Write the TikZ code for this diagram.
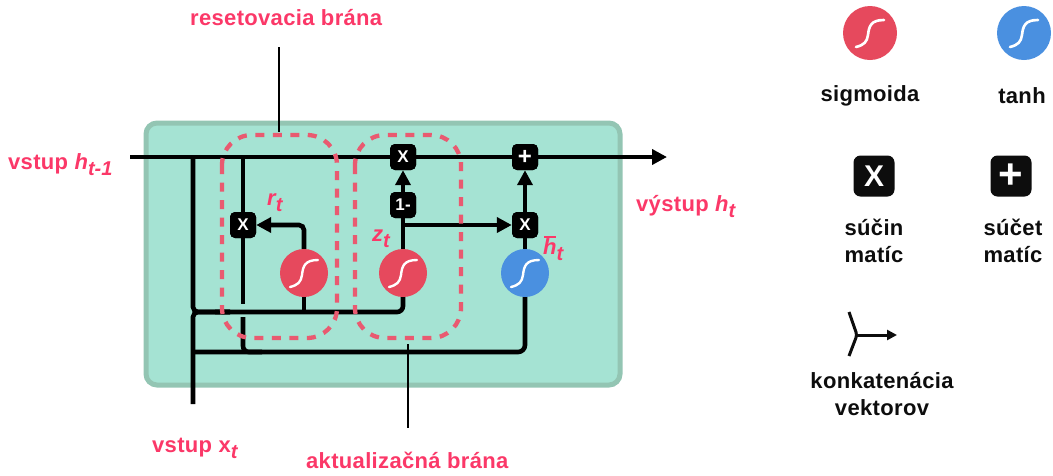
\documentclass[tikz,border=0pt]{standalone}
\usepackage{fontspec}
\setmainfont{Liberation Sans}[BoldFeatures={LetterSpace=1.5}]
\usetikzlibrary{arrows.meta}
\definecolor{panelfill}{HTML}{A5E3D3}
\definecolor{paneledge}{HTML}{93C5B3}
\definecolor{sigred}{HTML}{E6495D}
\definecolor{tanhblue}{HTML}{4A90E0}
\definecolor{dashpink}{HTML}{E95A70}
\definecolor{labelpink}{HTML}{FB3868}
\newcommand{\lblsub}[1]{\raisebox{-0.3em}{\itshape\fontsize{20}{20}\selectfont #1}}
\newcommand{\hbarglyph}{\makebox[0pt][l]{\hspace{1pt}\raisebox{16pt}{\rule{12pt}{1.6pt}}}{\itshape h}}
\tikzset{
  x=1pt,y=-1pt,
  wire/.style={line width=4.6pt,draw=black},
  arrowwire/.style={wire,-{Triangle[length=15pt,width=15pt]}},
  thinwire/.style={line width=1.5pt,draw=black},
  gatedash/.style={draw=dashpink,line width=4.3pt,rounded corners=30pt,dash pattern=on 9pt off 8.5pt},
  opbox/.style={fill=black,text=white,rounded corners=5pt,minimum size=26pt,inner sep=0pt,font=\bfseries\fontsize{17}{17}\selectfont},
  plusbox/.style={opbox,font=\bfseries\fontsize{24}{24}\selectfont},
  bigbox/.style={fill=black!95,text=white,rounded corners=7pt,minimum size=41pt,inner sep=0pt,font=\bfseries\fontsize{30}{30}\selectfont},
  bigplus/.style={bigbox,font=\bfseries\fontsize{42}{42}\selectfont},
  sshape/.style={path picture={\draw[white,line width=#1*2.4pt,line cap=round,shift={(path picture bounding box.center)},scale=#1]
     (-14,14) .. controls (-6,12) and (-3,9) .. (-2,2) .. controls (-1,-7) and (1,-13) .. (14,-13);}},
  redsig/.style={circle,fill=sigred,minimum size=48pt,inner sep=0pt,sshape=1},
  bluesig/.style={circle,fill=tanhblue,minimum size=48pt,inner sep=0pt,sshape=1},
  pinktxt/.style={text=labelpink,font=\bfseries\fontsize{22}{25}\selectfont,inner sep=0pt,anchor=base west},
  legtxt/.style={text=black!95,font=\bfseries\fontsize{22}{27}\selectfont,inner sep=0pt,align=center},
}
\begin{document}
\begin{tikzpicture}
\useasboundingbox (0,0) rectangle (1053,475);
% panel
\path[fill=panelfill,draw=paneledge,line width=5pt,rounded corners=11pt] (146,123) rectangle (620,385);

% nodes
\node[opbox] (mulr) at (243,225) {X};
\node[opbox] (mulz) at (403,157) {X};
\node[opbox] (oneminus) at (403,205) {1-};
\node[opbox] (mulh) at (525,225) {X};
\node[plusbox] (plus) at (525,157) {+};
\node[redsig] (sigr) at (304,273) {};
\node[redsig] (sigz) at (403,273) {};
\node[bluesig] (tanhc) at (525,273) {};

% free ends and junctions
\coordinate (inh) at (130,157);
\coordinate (outh) at (667,157);
\coordinate (inx) at (193,404);
\coordinate (split) at (193,157);
\coordinate (tapr) at (243,157);
\coordinate (concatj) at (193,312);
\coordinate (lowj) at (193,352);

% wires
\draw[arrowwire] (inh) -- (outh);
\draw[wire,rounded corners=5pt] (split) -- (concatj) -- (230,312);
\draw[wire,rounded corners=5pt] (inx) -- (concatj) -- (230,312);
\draw[wire,rounded corners=6pt] (215,312) -- (403,312) -- (sigz.south);
\draw[wire] (sigr.south) -- (304,312);
\draw[wire] (tapr) -- (mulr.north);
\draw[wire] (mulr.south) -- (243,304);
\draw[wire,rounded corners=6pt] (243,317) -- (243,352) -- (262,352);
\draw[wire,rounded corners=7pt] (lowj) -- (525,352) -- (tanhc.south);
\draw[arrowwire,rounded corners=5pt] (sigr.north) -- (304,225) -- (mulr.east);
\draw[wire] (sigz.north) -- (oneminus.south);
\draw[arrowwire] (oneminus.north) -- (mulz.south);
\coordinate (branch) at (403,225);
\draw[arrowwire] (branch) -- (mulh.west);
\draw[wire] (tanhc.north) -- (mulh.south);
\draw[arrowwire] (mulh.north) -- (plus.south);

% redraw gates on top of wires
\node[opbox] at (mulr) {X};
\node[opbox] at (mulz) {X};
\node[opbox] at (oneminus) {1-};
\node[opbox] at (mulh) {X};
\node[plusbox] at (plus) {+};

% dashed gates
\draw[gatedash] (222,135) rectangle (337,338);
\draw[gatedash] (355,135) rectangle (461,338);

% pointers
\node[pinktxt] (reset) at (190,25) {resetovacia brána};
\node[pinktxt] (aktual) at (306,468) {aktualizačná brána};
\coordinate (resetp) at (279,132);
\coordinate (aktualp) at (408,344);
\draw[thinwire] (279,47) -- (resetp);
\draw[thinwire] (aktualp) -- (408,428);

% labels
\node[pinktxt] (lin) at (8,169) {vstup {\itshape h}\lblsub{t-1}};
\node[pinktxt] (lout) at (636,211) {výstup {\itshape h}\lblsub{t}};
\node[pinktxt] (lx) at (152,452) {vstup x\lblsub{t}};
\node[pinktxt] (lr) at (267,205) {{\itshape r}\lblsub{t}};
\node[pinktxt] (lz) at (372,241) {{\itshape z}\lblsub{t}};
\node[pinktxt] (lh) at (543,254) {\hbarglyph\lblsub{t}};

% legend
\node[circle,fill=sigred,minimum size=54pt,inner sep=0pt,sshape=1.1] (legsig) at (870,33) {};
\node[circle,fill=tanhblue,minimum size=54pt,inner sep=0pt,sshape=1.1] (legtanh) at (1024,33) {};
\node[legtxt] (tsig) at (870,96) {sigmoida};
\node[legtxt] (ttanh) at (1022,96) {tanh};
\node[bigbox] (legmul) at (874,176) {X};
\node[bigplus] (legadd) at (1011,176) {+};
\node[legtxt] (tmul) at (874,241) {súčin\\matíc};
\node[legtxt] (tadd) at (1013,241) {súčet\\matíc};
\coordinate (lega) at (849,312);
\coordinate (legb) at (849,356);
\coordinate (legj) at (857,335);
\coordinate (lege) at (897,335);
\draw[line width=3pt,black!95,rounded corners=3pt] (lega) -- (legj) -- (legb);
\draw[line width=3pt,black!95,-{Triangle[length=10pt,width=10pt]}] (legj) -- (lege);
\node[legtxt] (tcon) at (882,394) {konkatenácia\\vektorov};
\end{tikzpicture}
\end{document}
